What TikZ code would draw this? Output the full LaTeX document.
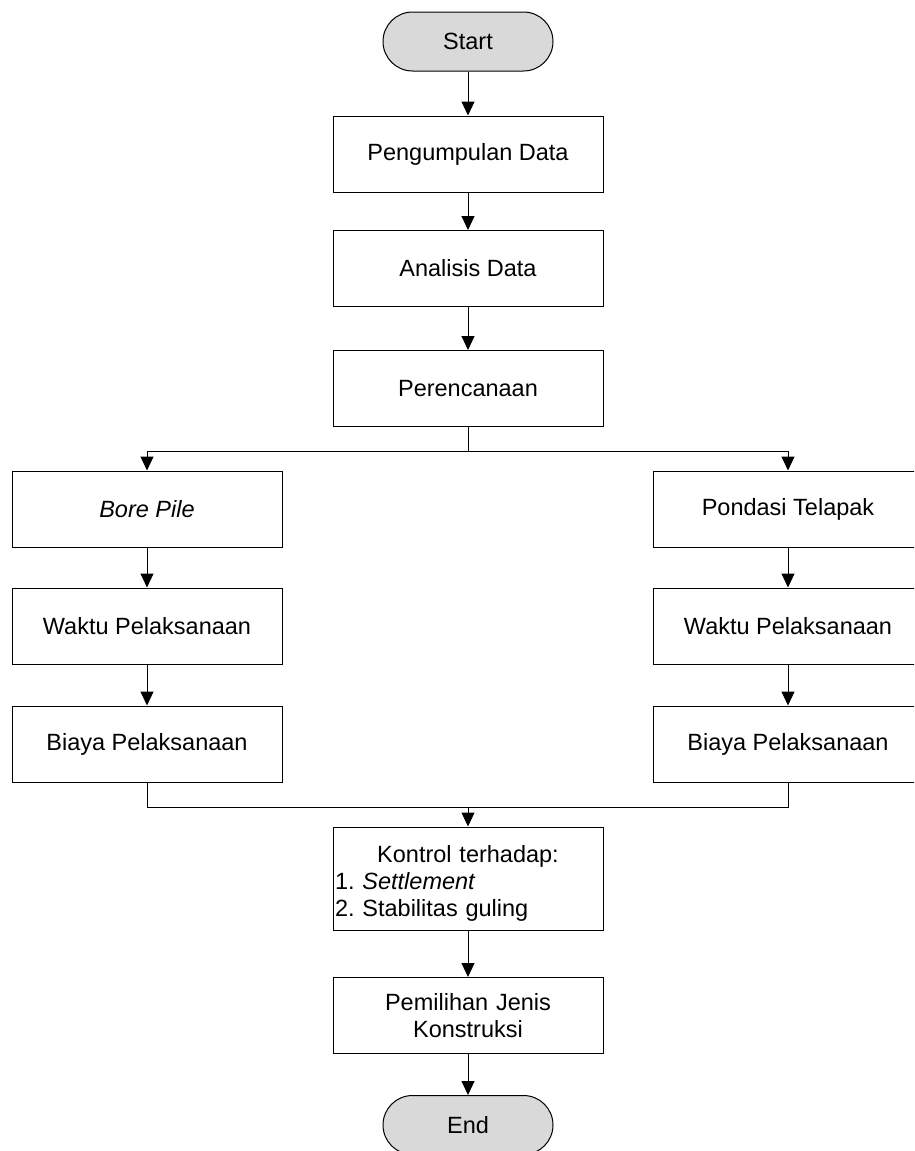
\documentclass[tikz,border=0pt]{standalone}
\usepackage{fontspec}
\setmainfont{Liberation Sans}
\usetikzlibrary{arrows.meta}
\definecolor{termgray}{HTML}{D9D9D9}
\frenchspacing
\begin{document}
\begin{tikzpicture}[x=1pt,y=-1pt,
  every node/.style={font=\fontsize{23.5}{27}\selectfont, text=black},
  procbox/.style={draw=black, line width=1pt, rectangle, minimum width=270pt, minimum height=76pt, inner sep=0pt, align=center},
  termbox/.style={draw=black, line width=1pt, fill=termgray, rectangle, rounded corners=29.5pt, minimum width=170pt, minimum height=59pt, inner sep=0pt},
  arr/.style={draw=black, line width=1pt, -{Triangle[length=14pt,width=13pt]}},
  ln/.style={draw=black, line width=1pt}]
\clip (0,0) rectangle (914,1151);
\fill[white] (0,0) rectangle (914,1151);
% main column
\node[termbox] (start) at (468,41.5) {Start};
\node[procbox] (pd) at (468,154) {Pengumpulan Data};
\node[procbox] (ad) at (468,268.5) {Analisis Data};
\node[procbox] (pr) at (468,388.5) {Perencanaan};
% left column
\node[procbox] (bp) at (147,509) {\textit{Bore Pile}};
\node[procbox] (wl) at (147,626) {Waktu Pelaksanaan};
\node[procbox] (bl) at (147,744) {Biaya Pelaksanaan};
% right column
\node[procbox] (pt) at (788,509) {Pondasi Telapak};
\node[procbox] (wr) at (788,626) {Waktu Pelaksanaan};
\node[procbox] (brr) at (788,744) {Biaya Pelaksanaan};
% lower
\node[procbox, minimum height=103pt] (ko) at (468,878.5) {};
\node[text width=266pt, inner sep=0pt, align=left] (kotext) at (468,883)
  {\fontsize{23.5}{27}\selectfont{\centering Kontrol terhadap:\par}1. \textit{Settlement}\\2. Stabilitas guling};
\node[procbox, text width=266pt] (pj) at (468,1015.5) {\fontsize{23.5}{27}\selectfont Pemilihan Jenis\\Konstruksi};
\node[termbox] (end) at (468,1125) {End};
% connectors
\coordinate (split) at (468,451);
\coordinate (merge) at (468,807);
\draw[arr] (start) -- (pd);
\draw[arr] (pd) -- (ad);
\draw[arr] (ad) -- (pr);
\draw[ln] (pr) -- (split);
\draw[arr] (split) -| (bp);
\draw[arr] (split) -| (pt);
\draw[arr] (bp) -- (wl);
\draw[arr] (wl) -- (bl);
\draw[arr] (pt) -- (wr);
\draw[arr] (wr) -- (brr);
\draw[ln] (bl) |- (merge);
\draw[ln] (brr) |- (merge);
\draw[arr] (merge) -- (ko);
\draw[arr] (ko) -- (pj);
\draw[arr] (pj) -- (end);
\end{tikzpicture}
\end{document}
